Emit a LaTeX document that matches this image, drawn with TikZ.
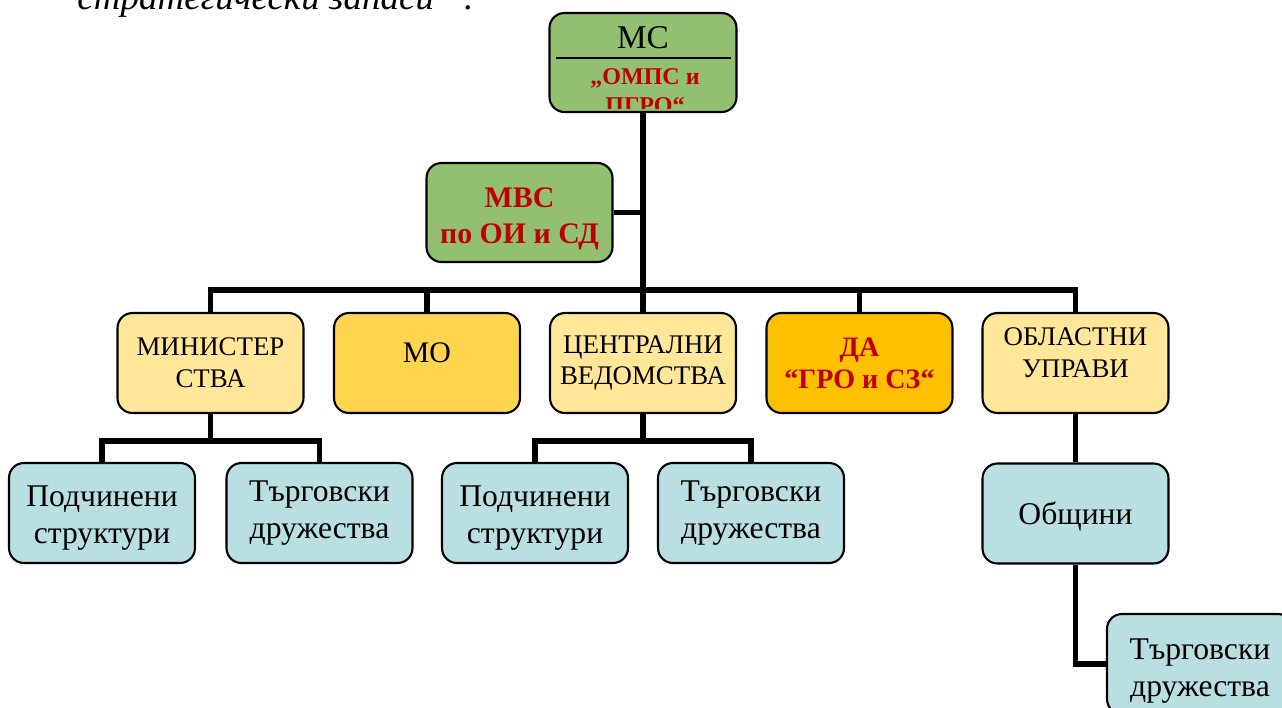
\documentclass[tikz,border=0pt]{standalone}
\usepackage{fontspec}
\setmainfont{Liberation Serif}
\usepackage{xcolor}
\usepackage{tikz}
\definecolor{zelen}{HTML}{92C070}
\definecolor{zhalt}{HTML}{FFE699}
\definecolor{zlato}{HTML}{FFD550}
\definecolor{oranzh}{HTML}{FFC000}
\definecolor{sin}{HTML}{B9DFE3}
\definecolor{cherven}{HTML}{C00000}
\tikzstyle{box} = [draw=black, line width=1.2pt, rounded corners=8.5pt, minimum width=3.72cm, minimum height=2cm, inner sep=0pt, align=center]
\tikzstyle{glaven} = [box, fill=zelen, text=cherven]
\tikzstyle{vedomstvo} = [box, fill=zhalt, font=\fontsize{15.3}{18}\selectfont]
\tikzstyle{podnivo} = [box, fill=sin, font=\fontsize{18}{21}\selectfont]
\tikzstyle{vrazka} = [line width=3.4pt]

\begin{document}
\begin{tikzpicture}[x=0.02cm, y=-0.02cm]
\useasboundingbox (0,0) rectangle (1282,707);
\clip (0,0) rectangle (1282,707);

\node[anchor=base west, inner sep=0pt, font=\itshape\fontsize{21.1}{25}\selectfont] (zapasi) at (77,9) {стратегически запаси“ .};

\node[glaven, minimum width=3.74cm, minimum height=1.98cm] (ms) at (643,62.5) {};
\node[anchor=base, font=\fontsize{18.9}{22}\selectfont] (ms-t) at (643,48) {МС};
\draw[line width=1.1pt] (556,58) -- (731,58);
\begin{scope}
\clip[rounded corners=8.5pt] (ms.north west) rectangle ([yshift=2.4pt]ms.south east);
\node[text=cherven, align=center, font=\bfseries\fontsize{13.7}{16.3}\selectfont] (ms-r) at (645,91) {„ОМПС и\\ПГРО“};
\end{scope}

\node[glaven, minimum height=1.98cm, font=\bfseries\fontsize{17}{20.5}\selectfont] (mvs) at (519.5,212.5) {\rule{0pt}{18pt}МВС\\по ОИ и СД};

\node[vedomstvo] (min) at (210.5,363) {МИНИСТЕР\\СТВА};
\node[box, fill=zlato, font=\fontsize{17}{20}\selectfont] (mo) at (427,363) {МО\\[-8.6pt]{}};
\node[vedomstvo] (cv) at (643,363) {ЦЕНТРАЛНИ\\ВЕДОМСТВА};
\node[box, fill=oranzh, text=cherven, font=\bfseries\fontsize{16}{18.2}\selectfont] (da) at (859.5,363) {ДА\\“ГРО и СЗ“};
\node[vedomstvo] (ou) at (1075.5,363) {ОБЛАСТНИ\\УПРАВИ\\[-6pt]{}};

\node[podnivo] (ps1) at (102,513) {\rule{0pt}{17.5pt}Подчинени\\структури};
\node[podnivo] (td1) at (319.5,513) {Търговски\\дружества};
\node[podnivo] (ps2) at (535,513) {\rule{0pt}{17.5pt}Подчинени\\структури};
\node[podnivo] (td2) at (751,513) {Търговски\\дружества};
\node[podnivo, text depth=0pt] (ob) at (1075.5,513.5) {Общини};
\node[podnivo] (td3) at (1200,664) {\rule{0pt}{20pt}Търговски\\дружества};

\coordinate (bar) at (643,290);
\coordinate (bar1) at (210.5,441);
\coordinate (bar2) at (643,441);
\draw[vrazka] (ms.south) -- (bar);
\draw[vrazka] (mvs.east) -- (mvs.east -| ms.south);
\draw[vrazka] (min.north) |- (bar) -| (ou.north);
\draw[vrazka] (mo.north) -- (mo.north |- bar);
\draw[vrazka] (cv.north) -- (bar);
\draw[vrazka] (da.north) -- (da.north |- bar);
\draw[vrazka] (min.south) -- (bar1);
\draw[vrazka] (ps1.north) |- (bar1) -| (td1.north);
\draw[vrazka] (cv.south) -- (bar2);
\draw[vrazka] (ps2.north) |- (bar2) -| (td2.north);
\draw[vrazka] (ou.south) -- (ob.north);
\draw[vrazka] (ob.south) |- (td3.west);
\end{tikzpicture}
\end{document}
